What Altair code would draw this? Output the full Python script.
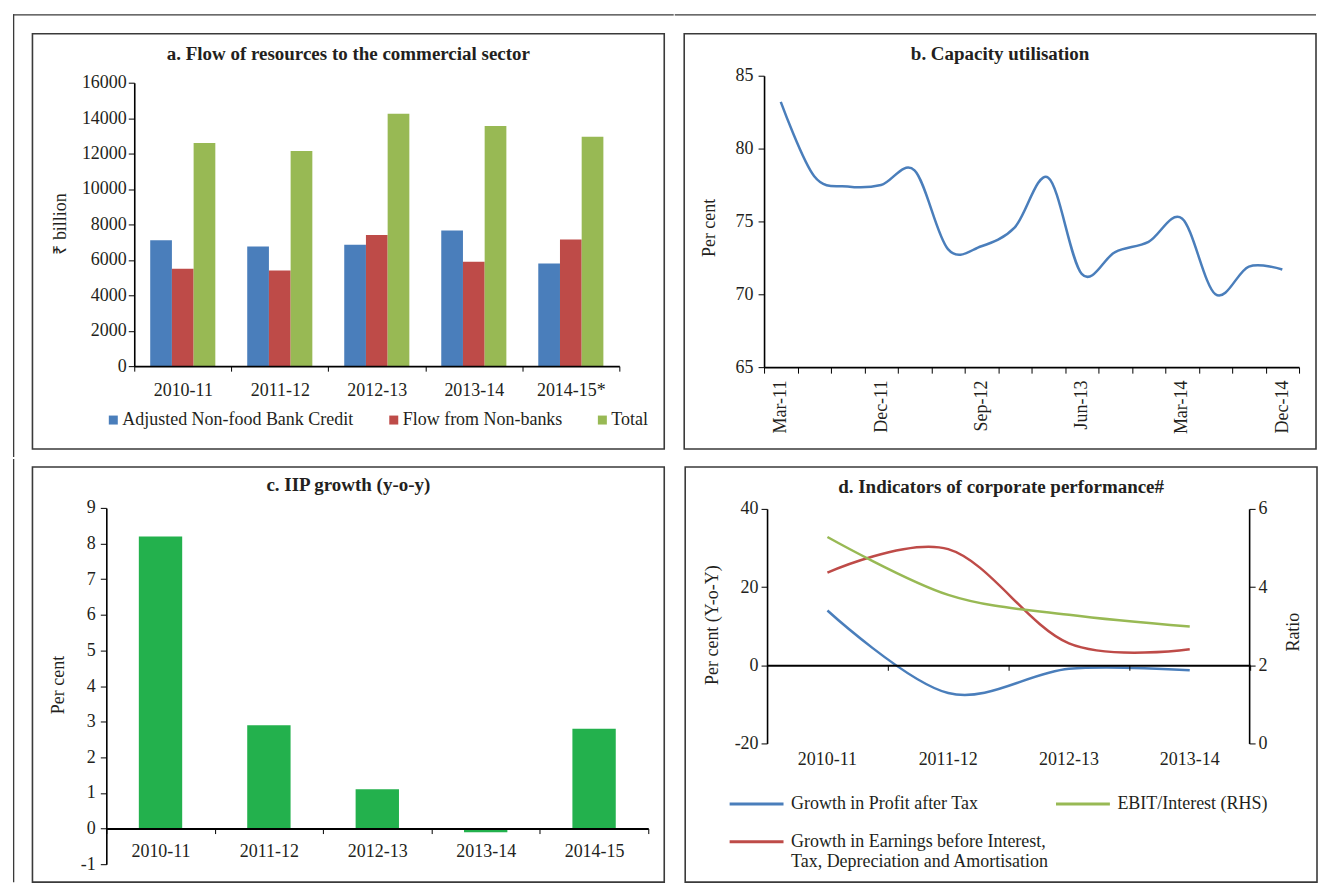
import json
import altair as alt
import pandas as pd

FONT = "Liberation Serif"
TXT = "#231F20"
FRAME = "#3A3A3A"
BLUE = "#4A7EBB"
RED = "#BE4B48"
GREEN = "#98B954"
GREEN_C = "#23B14D"

# ---------------- data ----------------
# a. Flow of resources to the commercial sector
years_a = ["2010-11", "2011-12", "2012-13", "2013-14", "2014-15*"]
series_a = ["Adjusted Non-food Bank Credit", "Flow from Non-banks", "Total"]
credit_a = [7100, 6750, 6850, 7650, 5800]
nonbank_a = [5500, 5400, 7400, 5900, 7150]
total_a = [12600, 12150, 14250, 13550, 12950]

# b. Capacity utilisation
quarters_b = ["Mar-11", "Jun-11", "Sep-11", "Dec-11", "Mar-12", "Jun-12", "Sep-12", "Dec-12",
              "Mar-13", "Jun-13", "Sep-13", "Dec-13", "Mar-14", "Jun-14", "Sep-14", "Dec-14"]
capacity_b = [83.2, 78.1, 77.4, 77.5, 78.5, 73.1, 73.3, 74.6,
              78.0, 71.4, 72.9, 73.6, 75.2, 70.0, 71.9, 71.7]
shown_b = ["Mar-11", "Dec-11", "Sep-12", "Jun-13", "Mar-14", "Dec-14"]

# c. IIP growth
years_c = ["2010-11", "2011-12", "2012-13", "2013-14", "2014-15"]
iip_c = [8.2, 2.9, 1.1, -0.1, 2.8]

# d. Indicators of corporate performance
years_d = ["2010-11", "2011-12", "2012-13", "2013-14"]
s_pat = "Growth in Profit after Tax"
s_ebit = "EBIT/Interest (RHS)"
s_ebitda = "Growth in Earnings before Interest,|Tax, Depreciation and Amortisation"
pat_d = [14.0, -7.1, -0.9, -1.3]
ebit_int_d = [5.28, 3.8, 3.29, 2.99]
ebitda_d = [23.7, 29.7, 5.6, 4.1]
# legend fills column by column: (Profit, EBITDA) | (EBIT)
legend_order_d = [s_pat, s_ebitda, s_ebit]
legend_colors_d = [BLUE, RED, GREEN]

# ---------------- helpers (decoration only) ----------------
one = pd.DataFrame({"k": [0]})
LW = 1.3  # outer frame line thickness
PLAIN_NUM = "'' + datum.value"  # hyphen-minus for negatives, as in the source


def bar_rect(x0, y0, x1, y1):
    return alt.Chart(one).mark_rect(color=FRAME).encode(
        x=alt.value(x0), x2=alt.value(x1), y=alt.value(y0), y2=alt.value(y1))


def title(text, offset):
    return alt.TitleParams(text=text, font=FONT, fontSize=19, fontWeight="bold", color=TXT,
                           anchor="middle", frame="group", offset=offset,
                           baseline="alphabetic", zindex=2)


# Each panel's view is its bordered box; the plot area is an inner pixel range.
# ---------------- panel a ----------------  box (31,33) 633x416
AW, AH = 633, 416
df_a = pd.DataFrame({
    "year": years_a * 3,
    "series_a": [s for s in series_a for _ in years_a],
    "value": credit_a + nonbank_a + total_a,
})
bars_a = alt.Chart(df_a).mark_bar().encode(
    x=alt.X("year:N", sort=years_a, scale=alt.Scale(range=[102, 588], paddingInner=0, paddingOuter=0),
            axis=alt.Axis(title=None, labelAngle=0, tickBand="extent", tickSize=5, offset=-83,
                          labelPadding=19, labelBaseline="middle", zindex=1)),
    xOffset=alt.XOffset("series_a:N", sort=series_a,
                        scale=alt.Scale(paddingInner=0, paddingOuter=0.735)),
    y=alt.Y("value:Q", scale=alt.Scale(domain=[0, 16000], range=[333, 49], nice=False),
            axis=alt.Axis(values=list(range(0, 16001, 2000)), labelExpr=PLAIN_NUM, title="₹ billion",
                          offset=-102, titleX=-74, titleY=190, tickSize=6, labelPadding=2,
                          zindex=1)),
    color=alt.Color("series_a:N", sort=series_a,
                    scale=alt.Scale(domain=series_a, range=[BLUE, RED, GREEN]),
                    legend=alt.Legend(title=None, orient="none", legendX=72, legendY=378,
                                      direction="horizontal", symbolType="square", symbolSize=81,
                                      symbolStrokeWidth=0, columnPadding=31, labelOffset=0,
                                      labelFontSize=18, labelLimit=400, zindex=1)),
)
panel_a = alt.layer(
    bar_rect(-19.5, -19.5, 642.5, -19.5 + LW),   # outer frame, top
    bar_rect(-19.5, -19.5, -19.5 + LW, 424),     # outer frame, left
    bars_a,
).properties(width=AW, height=AH,
             title=title("a. Flow of resources to the commercial sector", -64.4))

# ---------------- panel b ----------------  box (683,33) 633x416
BW, BH = 633, 416
df_b = pd.DataFrame({"q": quarters_b, "v": capacity_b})
line_b = alt.Chart(df_b).mark_line(interpolate="cardinal", color=BLUE, strokeWidth=2.5).encode(
    x=alt.X("q:N", sort=quarters_b, scale=alt.Scale(range=[80, 616], paddingInner=0, paddingOuter=0),
            axis=alt.Axis(title=None, labelAngle=270, tickBand="extent", tickSize=6, offset=-82,
                          labelPadding=7, labelOverlap=False,
                          labelExpr=f"indexof({json.dumps(shown_b)}, datum.value) >= 0 ? datum.label : ''",
                          zindex=1)),
    y=alt.Y("v:Q", scale=alt.Scale(domain=[65, 85], range=[334, 42], nice=False, zero=False),
            axis=alt.Axis(values=[65, 70, 75, 80, 85], title="Per cent", offset=-80,
                          titleX=-55, titleY=194, tickSize=6, labelPadding=5, zindex=1)),
)
panel_b = alt.layer(
    bar_rect(-9.5, -19.5, 633, -19.5 + LW),      # outer frame, top (continued)
    line_b,
).properties(width=BW, height=BH, title=title("b. Capacity utilisation", -64.4))

# ---------------- panel c ----------------  box (31,465) 633x416
CW, CH = 633, 416
df_c = pd.DataFrame({"year": years_c, "v": iip_c})
bars_c = alt.Chart(df_c).mark_bar(color=GREEN_C, width={"band": 0.4}).encode(
    x=alt.X("year:N", sort=years_c, scale=alt.Scale(range=[74, 617], paddingInner=0, paddingOuter=0),
            axis=alt.Axis(title=None, labelAngle=0, tickBand="extent", tickSize=5,
                          labelPadding=18, labelBaseline="middle", offset=-53.7,
                          domainWidth=2, zindex=1)),
    y=alt.Y("v:Q", scale=alt.Scale(domain=[-1, 9], range=[398, 41], nice=False),
            axis=alt.Axis(values=list(range(-1, 10)), labelExpr=PLAIN_NUM, title="Per cent",
                          offset=-74, titleX=-48, titleY=218, tickSize=6, labelPadding=5,
                          zindex=1)),
)
panel_c = alt.layer(
    bar_rect(-19.5, -8, -19.5 + LW, 416),        # outer frame, left (continued)
    bars_c,
).properties(width=CW, height=CH, title=title("c. IIP growth (y-o-y)", -51.4))

# ---------------- panel d ----------------  box (683,465) 633x416
DW, DH = 633, 416
df_d = pd.DataFrame({
    "year": years_d * 3,
    "series_d": [s_pat] * 4 + [s_ebit] * 4 + [s_ebitda] * 4,
    "side": ["L"] * 4 + ["R"] * 4 + ["L"] * 4,
    "value": pat_d + ebit_int_d + ebitda_d,
})
x_scale_d = alt.Scale(range=[82, 566], paddingInner=0, paddingOuter=0)
color_d = alt.Color("series_d:N", scale=alt.Scale(domain=legend_order_d, range=legend_colors_d),
                    legend=alt.Legend(title=None, orient="none", legendX=43, legendY=309,
                                      columns=2, symbolType="stroke", symbolSize=2916,
                                      symbolStrokeWidth=3, labelFontSize=18, labelLimit=600,
                                      labelExpr="split(datum.label, '|')", columnPadding=0,
                                      rowPadding=-13.5, labelOffset=6, zindex=1))
left_d = alt.Chart(df_d).transform_filter("datum.side == 'L'").mark_line(
    interpolate="cardinal", strokeWidth=2.5).encode(
    x=alt.X("year:N", sort=years_d, scale=x_scale_d,
            axis=alt.Axis(title=None, labels=False, tickBand="extent", tickSize=5,
                          offset=-217.3, orient="bottom", domainWidth=2, zindex=1)),
    y=alt.Y("value:Q", scale=alt.Scale(domain=[-20, 40], range=[277, 42], nice=False),
            axis=alt.Axis(values=[-20, 0, 20, 40], labelExpr=PLAIN_NUM, title="Per cent (Y-o-Y)",
                          offset=-82, titleX=-55, titleY=158, tickSize=6, labelPadding=3,
                          zindex=1)),
    color=color_d,
)
right_d = alt.Chart(df_d).transform_filter("datum.side == 'R'").mark_line(
    interpolate="cardinal", strokeWidth=2.5).encode(
    x=alt.X("year:N", sort=years_d, scale=x_scale_d,
            axis=alt.Axis(title=None, labelAngle=0, ticks=False, tickSize=0, domain=False,
                          offset=-139, labelPadding=16, labelBaseline="middle",
                          orient="bottom", zindex=1)),
    y=alt.Y("value:Q", scale=alt.Scale(domain=[0, 6], range=[277, 42], nice=False),
            axis=alt.Axis(values=[0, 2, 4, 6], orient="right", title="Ratio", offset=-68,
                          titleX=44, titleY=165, tickSize=6, labelPadding=3, zindex=1)),
    color=color_d,
)
panel_d = alt.layer(left_d, right_d).resolve_scale(y="independent").resolve_axis(
    x="independent").properties(
    width=DW, height=DH, title=title("d. Indicators of corporate performance#", -45.4))

# ---------------- assemble ----------------
row1 = alt.hconcat(panel_a, panel_b, spacing=-2).resolve_scale(color="independent")
row2 = alt.hconcat(panel_c, panel_d, spacing=19).resolve_scale(color="independent")
chart = alt.vconcat(row1, row2, spacing=0).resolve_scale(
    color="independent"
).properties(
    padding={"left": 3.5, "top": 4, "right": 0, "bottom": 0}
).configure_view(
    stroke=FRAME, strokeWidth=1.6, fill="white"
).configure_axis(
    labelFont=FONT, labelFontSize=18, labelColor=TXT,
    titleFont=FONT, titleFontSize=18, titleFontWeight="normal", titleColor=TXT,
    domainColor="black", domainWidth=1.6, tickColor="black", tickWidth=1, grid=False,
).configure_axisY(
    titleAngle=270, titleAlign="center", titleBaseline="middle",
).configure_legend(
    labelFont=FONT, labelColor=TXT,
)

chart.save("out.html", embed_options={"renderer": "svg", "actions": False})
